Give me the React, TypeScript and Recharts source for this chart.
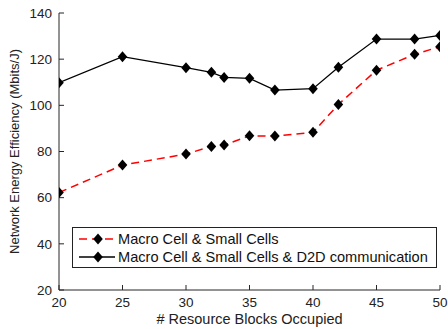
import { LineChart, Line, XAxis, YAxis } from 'recharts';

const resourceBlocks = [20, 25, 30, 32, 33, 35, 37, 40, 42, 45, 48, 50];
const macroSmall = [62.2, 74.1, 78.9, 82.2, 82.8, 86.8, 86.7, 88.3, 100.4, 115.2, 122.1, 125.4];
const macroSmallD2D = [109.8, 121.1, 116.3, 114.3, 112.1, 111.7, 106.6, 107.2, 116.5, 128.7, 128.7, 130.3];
const xTicks = [20, 25, 30, 35, 40, 45, 50];
const yTicks = [20, 40, 60, 80, 100, 120, 140];

const data = resourceBlocks.map((rb, i) => ({
  rb,
  macroSmall: macroSmall[i],
  macroSmallD2D: macroSmallD2D[i],
}));

const axisColor = '#262626';
const font = '"Liberation Sans", Arial, sans-serif';

const Diamond = (props: any) => {
  const { cx, cy } = props;
  if (cx == null || cy == null) return null;
  return (
    <path
      d={`M${cx},${cy - 5.5}L${cx + 4.8},${cy}L${cx},${cy + 5.5}L${cx - 4.8},${cy}Z`}
      fill="#000"
    />
  );
};

const LegendSample = ({ color, dash }: { color: string; dash?: string }) => (
  <svg width={40} height={12} style={{ display: 'block' }}>
    <line x1={2} y1={6} x2={38} y2={6} stroke={color} strokeWidth={1.5} strokeDasharray={dash} />
    <path d="M21,0.5L25.8,6L21,11.5L16.2,6Z" fill="#000" />
  </svg>
);

const App = () => {
  return (
    <div style={{ position: 'relative', width: 448, height: 329, background: '#fff', fontFamily: font }}>
      <style>{`body { margin: 0; }`}</style>
      <LineChart
        width={448}
        height={329}
        data={data}
        margin={{ top: 13, right: 8, bottom: 0, left: 0 }}
        style={{ fontFamily: font }}
      >
        <XAxis
          dataKey="rb"
          type="number"
          domain={[20, 50]}
          ticks={xTicks}
          allowDataOverflow
          height={39}
          tickSize={-5}
          tickMargin={12}
          stroke={axisColor}
          tick={{ fill: '#222', fontSize: 13.5 }}
          label={{ value: '# Resource Blocks Occupied', position: 'insideBottom', offset: 5, fill: '#222', fontSize: 14.5 }}
        />
        <XAxis
          xAxisId="top"
          orientation="top"
          dataKey="rb"
          type="number"
          domain={[20, 50]}
          ticks={xTicks}
          allowDataOverflow
          height={0}
          tickSize={-5}
          stroke={axisColor}
          tickFormatter={() => ''}
        />
        <YAxis
          type="number"
          domain={[20, 140]}
          ticks={yTicks}
          allowDataOverflow
          width={59}
          tickSize={-5}
          tickMargin={12}
          stroke={axisColor}
          tick={{ fill: '#222', fontSize: 13.5 }}
          label={{
            value: 'Network Energy Efficiency (Mbits/J)',
            angle: -90,
            position: 'insideLeft',
            offset: 14,
            fill: '#222',
            fontSize: 13,
            style: { textAnchor: 'middle' },
          }}
        />
        <YAxis
          yAxisId="right"
          orientation="right"
          type="number"
          domain={[20, 140]}
          ticks={yTicks}
          allowDataOverflow
          width={0}
          tickSize={-5}
          stroke={axisColor}
          tickFormatter={() => ''}
        />
        <Line
          dataKey="macroSmall"
          stroke="#ff0000"
          strokeWidth={1.5}
          strokeDasharray="8 5"
          dot={<Diamond />}
          activeDot={false}
          isAnimationActive={false}
        />
        <Line
          dataKey="macroSmallD2D"
          stroke="#000"
          strokeWidth={1.3}
          dot={<Diamond />}
          activeDot={false}
          isAnimationActive={false}
        />
      </LineChart>
      <div
        style={{
          position: 'absolute',
          left: 72,
          top: 227,
          width: 359,
          height: 37,
          border: '1px solid #222',
          background: '#fff',
          fontSize: 14.6,
          color: '#111',
          padding: '2px 0 0 4px',
          boxSizing: 'content-box',
        }}
      >
        <div style={{ display: 'flex', alignItems: 'center', height: 18 }}>
          <LegendSample color="#ff0000" dash="8 5" />
          <span style={{ marginLeft: 1 }}>Macro Cell &amp; Small Cells</span>
        </div>
        <div style={{ display: 'flex', alignItems: 'center', height: 18 }}>
          <LegendSample color="#000" />
          <span style={{ marginLeft: 1 }}>Macro Cell &amp; Small Cells &amp; D2D communication</span>
        </div>
      </div>
    </div>
  );
};

export default App;
